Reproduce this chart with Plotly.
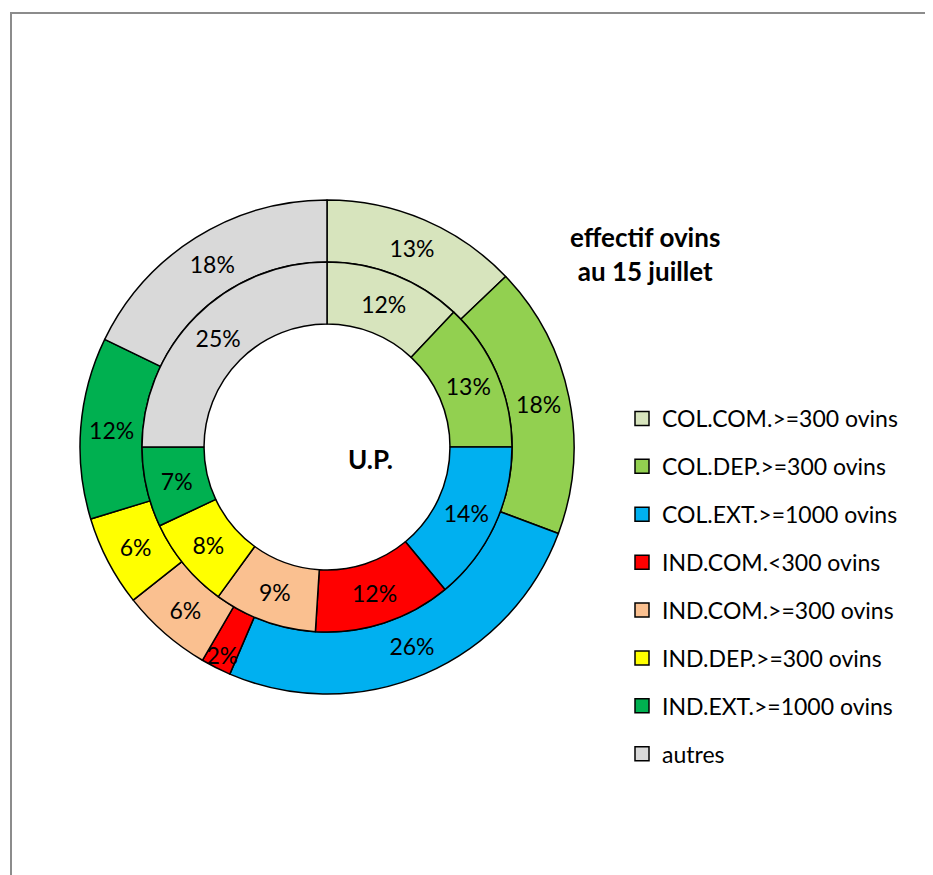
import plotly.graph_objects as go

labels = ["COL.COM.>=300 ovins", "COL.DEP.>=300 ovins", "COL.EXT.>=1000 ovins",
          "IND.COM.<300 ovins", "IND.COM.>=300 ovins", "IND.DEP.>=300 ovins",
          "IND.EXT.>=1000 ovins", "autres"]
inner_values = [12, 13, 14, 12, 9, 8, 7, 25]
outer_values = [13, 18, 26, 2, 6, 6, 12, 18]
colors = ["#D7E4BD", "#92D050", "#00B0F0", "#FF0000", "#FAC090", "#FFFF00", "#00B050", "#D9D9D9"]
title_text = "effectif ovins<br>au 15 juillet"
center_text = "U.P."

W, H = 933, 875
OFF = 8  # page body margin
FONT = "Lato"


def px(x):
    return (x - OFF) / W


def py(y):
    return 1 - (y - OFF) / H


cx, cy = 327, 447
R_out, R_mid, R_in = 247, 185, 123


def dom(r):
    return dict(x=[px(cx - r), px(cx + r)], y=[py(cy + r), py(cy - r)])


fig = go.Figure()
fig.add_trace(go.Pie(
    labels=labels, values=outer_values, sort=False, direction="clockwise", rotation=0,
    hole=R_mid / R_out, domain=dom(R_out),
    marker=dict(colors=colors, line=dict(color="#000000", width=1.5)),
    texttemplate="%{value}%", textposition="inside", insidetextorientation="horizontal",
    textfont=dict(family=FONT, size=23, color="#000000"),
    showlegend=False, hoverinfo="label+value",
))
fig.add_trace(go.Pie(
    labels=labels, values=inner_values, sort=False, direction="clockwise", rotation=0,
    hole=R_in / R_mid, domain=dom(R_mid),
    marker=dict(colors=colors, line=dict(color="#000000", width=1.5)),
    texttemplate="%{value}%", textposition="inside", insidetextorientation="horizontal",
    textfont=dict(family=FONT, size=23, color="#000000"),
    showlegend=False, hoverinfo="label+value",
))

for lab, col in zip(labels, colors):
    fig.add_trace(go.Scatter(
        x=[None], y=[None], mode="markers", name=lab, legendgroup=lab,
        marker=dict(symbol="square", size=14, color=col, line=dict(color="#000000", width=1.5)),
    ))

fig.update_layout(
    width=W, height=H, margin=dict(l=0, r=0, t=0, b=0),
    paper_bgcolor="#FFFFFF", plot_bgcolor="#FFFFFF",
    xaxis=dict(visible=False), yaxis=dict(visible=False),
    uniformtext=dict(minsize=23, mode="show"),
    legend=dict(x=px(622), y=py(397), xanchor="left", yanchor="top",
                font=dict(family=FONT, size=23, color="#000000"),
                traceorder="grouped", tracegroupgap=15, bgcolor="rgba(0,0,0,0)"),
    annotations=[
        dict(text=title_text, x=px(645), y=py(254), xref="paper", yref="paper",
             xanchor="center", yanchor="middle",
             showarrow=False, font=dict(family=FONT, size=26, color="#000000", weight="bold"),
             align="center"),
        dict(text=center_text, x=px(370), y=py(459), xref="paper", yref="paper",
             xanchor="center", yanchor="middle",
             showarrow=False, font=dict(family=FONT, size=26, color="#000000", weight="bold")),
    ],
    shapes=[dict(type="rect", xref="paper", yref="paper", x0=px(11), y0=-0.1, x1=1.1, y1=py(13),
                 line=dict(color="#8C8C8C", width=2))],
)

fig.write_html("out.html")
